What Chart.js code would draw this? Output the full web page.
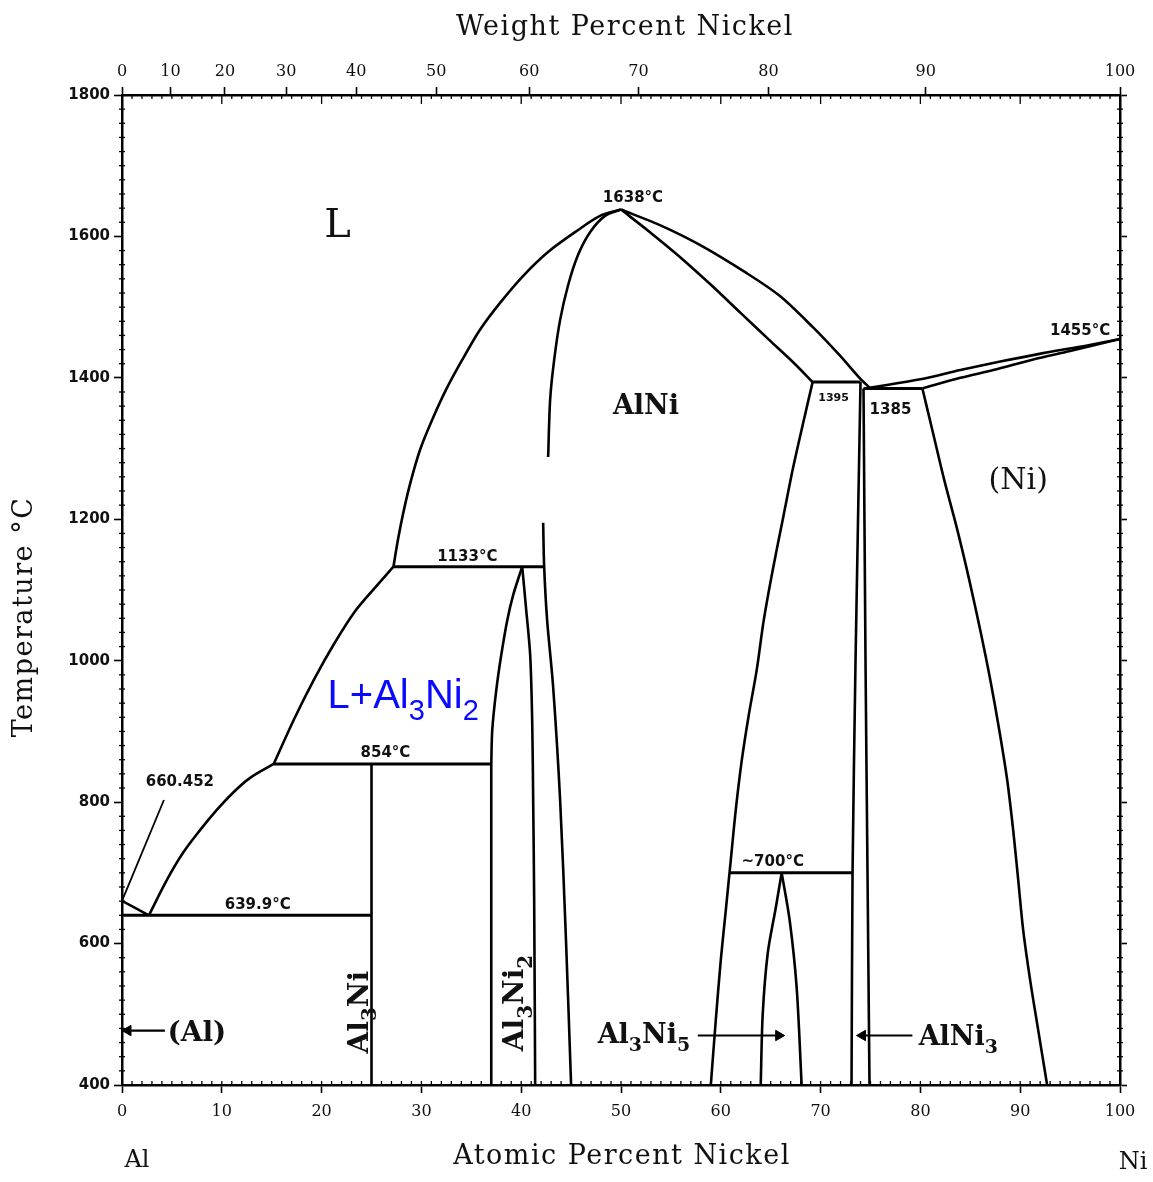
<!DOCTYPE html>
<html><head><meta charset="utf-8">
<script src="https://cdn.jsdelivr.net/npm/chart.js@4.4.1/dist/chart.umd.min.js"></script>
<style>html,body{margin:0;padding:0;background:#fff;}canvas{display:block;}</style>
</head><body>
<canvas id="c" width="1153" height="1182" style="width:1153px;height:1182px"></canvas>
<script>
// ---------- DATA (x = atomic % Ni, y = temperature °C) ----------
const alLiquidusShort = [[0,660.452],[2.7,639.9]];
const alLiquidus = [[2.7,639.9],[4.5,690],[6.1,728],[7.8,760],[9.5,789],[11.1,813],[12.8,834],[15.2,854]];
const meltLeader = [[0,660.452],[4.2,803]];
const eutectic640 = [[0,639.9],[25,639.9]];
const al3NiLine = [[25,400],[25,854]];
const peritectic854 = [[15.2,854],[37,854]];
const liquidus854to1133 = [[15.2,854],[17.3,919],[19.3,975],[21.3,1025],[23.3,1069],[25.4,1104],[27.2,1133]];
const peritectic1133 = [[27.2,1133],[42.3,1133]];
const liquidusTo1638 = [[27.2,1133],[27.65,1171],[28.26,1214],[28.96,1255],[29.86,1298],[31.06,1340],[32.46,1383],
  [34.07,1425],[35.87,1468],[37.88,1506],[40.18,1544],[42.69,1578],[45.39,1606],[47.9,1629],[50,1638]];
const alNiLeftUpper = [[50,1638],[48.4,1629],[46.9,1606],[45.7,1574],[44.7,1531],[43.9,1482],[43.3,1425],[42.9,1369],[42.7,1288]];
const alNiLeftLower = [[42.2,1195],[42.3,1133],[42.6,1057],[43.2,963],[43.9,803],[44.5,600],[45,400]];
const al3Ni2LeftLow = [[37,400],[37,854]];
const al3Ni2LeftHigh = [[37,854],[37.1,902],[37.5,958],[38.0,1008],[38.6,1057],[39.2,1093],[40.1,1133]];
const al3Ni2Right = [[40.1,1133],[40.5,1072],[40.9,1008],[41.1,916],[41.2,803],[41.3,661],[41.4,400]];
const liquidusRight = [[50,1638],[53.9,1616],[57.9,1588],[62.6,1548],[65.9,1516],[69.2,1472],[71.9,1432],[73.9,1400],[74.9,1386]];
const alNiSolidusRight = [[50,1638],[52.9,1606],[55.9,1571],[58.9,1533],[61.9,1493],[64.9,1453],[67.4,1420],[69.2,1394]];
const peritectic1395 = [[69.2,1394],[74,1394]];
const alNiRight = [[69.2,1394],[68.2,1333],[67.2,1270],[66.2,1199],[65.2,1128],[64.3,1057],[63.6,987],[62.8,923],
  [62.1,859],[61.5,789],[61.0,718],[60.5,647],[60.0,577],[59.5,492],[59.0,400]];
const alNi3Left = [[74,1394],[73.5,1000],[73.2,700],[73.1,400]];
const alNi3Right = [[74.3,1385],[74.5,1000],[74.7,700],[74.9,400]];
const eutectic1385 = [[74.3,1385],[80.2,1385]];
const niLiquidus = [[74.9,1386],[80,1398],[84,1411],[88,1423],[92.3,1435],[96,1444],[100,1455]];
const niSolidus = [[80.2,1385],[84,1400],[87.3,1411],[91.3,1426],[95,1438],[100,1455]];
const niSolvus = [[80.2,1385],[81.2,1326],[82.4,1255],[83.7,1185],[84.9,1114],[86.0,1043],[87.0,973],[87.9,902],
  [88.7,831],[89.3,760],[89.8,690],[90.3,619],[91.0,548],[91.8,478],[92.7,400]];
const peritectoid700 = [[60.9,700],[73.2,700]];
const al3Ni5Left = [[66.1,700],[65.5,650],[64.7,586],[64.2,500],[64.0,400]];
const al3Ni5Right = [[66.1,700],[66.9,633],[67.6,538],[68.1,400]];
const alArrow = [[4.3,477],[0.6,477]];
const al3Ni5Arrow = [[57.7,470],[65.8,470]];
const alNi3Arrow = [[79.2,470],[74.2,470]];

// tick labels
const tempTicks = [400,600,800,1000,1200,1400,1600,1800];
const atomicTicks = [0,10,20,30,40,50,60,70,80,90,100];
const weightTickLabels = [0,10,20,30,40,50,60,70,80,90,100];
const weightTickAtomic = [0,4.86,10.31,16.46,23.46,31.49,40.81,51.75,64.77,80.54,100];

// ---------- annotations (text) ----------
const annotations = [
  {t:'L', x:21.6, y:1620, size:40, fam:'DejaVu Serif', w:'normal'},
  {t:'AlNi', x:52.5, y:1363, size:27, fam:'DejaVu Serif', w:'bold'},
  {t:'(Ni)', x:89.8, y:1258, size:30, fam:'DejaVu Serif', w:'normal'},
  {t:'L+Al_3Ni_2', x:20.6, y:953, size:40, fam:'Liberation Sans', w:'normal', color:'#0a0aff', align:'left', sub:0.72},
  {t:'1638°C', x:51.2, y:1656, size:15, fam:'DejaVu Sans', w:'bold'},
  {t:'1133°C', x:34.6, y:1149, size:15, fam:'DejaVu Sans', w:'bold'},
  {t:'854°C', x:26.4, y:871, size:15, fam:'DejaVu Sans', w:'bold'},
  {t:'660.452', x:5.8, y:830, size:15, fam:'DejaVu Sans', w:'bold'},
  {t:'639.9°C', x:13.6, y:657, size:15, fam:'DejaVu Sans', w:'bold'},
  {t:'~700°C', x:65.2, y:718, size:15, fam:'DejaVu Sans', w:'bold'},
  {t:'1395', x:71.3, y:1373, size:11, fam:'DejaVu Sans', w:'bold'},
  {t:'1385', x:77.0, y:1357, size:15, fam:'DejaVu Sans', w:'bold'},
  {t:'1455°C', x:96.0, y:1468, size:15, fam:'DejaVu Sans', w:'bold'},
  {t:'(Al)', x:7.5, y:477, size:28, fam:'DejaVu Serif', w:'bold'},
  {t:'Al_3Ni_5', x:52.3, y:473, size:27, fam:'DejaVu Serif', w:'bold'},
  {t:'AlNi_3', x:83.8, y:471, size:27, fam:'DejaVu Serif', w:'bold'},
  {t:'Al_3Ni', x:23.6, y:503, size:28, fam:'DejaVu Serif', w:'bold', rot:-90},
  {t:'Al_3Ni_2', x:39.2, y:516, size:28, fam:'DejaVu Serif', w:'bold', rot:-90}
];

// ---------- build datasets ----------
const toXY = a => a.map(([x,y]) => ({x, y}));
const lineSets = [
  [alLiquidusShort,0,2.6],[alLiquidus,0.35,2.6],[meltLeader,0,1.8],[eutectic640,0,3],
  [al3NiLine,0,2.6],[peritectic854,0,3],[liquidus854to1133,0.3,2.6],[peritectic1133,0,3],
  [liquidusTo1638,0.3,2.6],[alNiLeftUpper,0.3,2.6],[alNiLeftLower,0.3,2.6],
  [al3Ni2LeftLow,0,2.6],[al3Ni2LeftHigh,0.3,2.6],[al3Ni2Right,0.3,2.6],
  [liquidusRight,0.3,2.6],[alNiSolidusRight,0.3,2.6],[peritectic1395,0,3],
  [alNiRight,0.3,2.6],[alNi3Left,0.2,2.6],[alNi3Right,0.2,2.6],[eutectic1385,0,3],
  [niLiquidus,0.3,2.6],[niSolidus,0.3,2.6],[niSolvus,0.3,2.6],[peritectoid700,0,3],
  [al3Ni5Left,0.3,2.6],[al3Ni5Right,0.3,2.6]
];
const datasets = lineSets.map(([arr,ten,bw]) => ({
  data: toXY(arr), showLine:true, borderColor:'#000', borderWidth:bw, tension:ten,
  pointRadius:0, pointHoverRadius:0, fill:false, xAxisID:'x', yAxisID:'y'
}));
[[alArrow,-90],[al3Ni5Arrow,90],[alNi3Arrow,-90]].forEach(([arr,rot]) => {
  datasets.push({data: toXY(arr), showLine:true, borderColor:'#000', borderWidth:2.2, tension:0,
    pointRadius:[0,6], pointStyle:'triangle', pointRotation:[0,rot], pointBackgroundColor:'#000',
    pointBorderColor:'#000', pointBorderWidth:1, pointHoverRadius:0, xAxisID:'x', yAxisID:'y'});
});

function drawRich(ctx, a, px, py) {
  const parts = [];
  const s = a.t;
  for (let i = 0; i < s.length; i++) {
    if (s[i] === '_' && i + 1 < s.length) { parts.push([s[i+1], true]); i++; }
    else { if (parts.length && !parts[parts.length-1][1]) parts[parts.length-1][0] += s[i]; else parts.push([s[i], false]); }
  }
  const subScale = a.sub || 0.7;
  const fontFor = sub => `${a.w||'normal'} ${sub ? Math.round(a.size*subScale) : a.size}px "${a.fam}"`;
  let total = 0;
  parts.forEach(p => { ctx.font = fontFor(p[1]); total += ctx.measureText(p[0]).width; });
  ctx.save();
  ctx.translate(px, py);
  if (a.rot) ctx.rotate(a.rot * Math.PI / 180);
  ctx.fillStyle = a.color || '#111';
  ctx.textBaseline = 'alphabetic';
  const capOffset = a.size * 0.36;
  let cx = (a.align === 'left') ? 0 : -total / 2;
  parts.forEach(p => {
    ctx.font = fontFor(p[1]);
    ctx.fillText(p[0], cx, capOffset + (p[1] ? a.size * 0.3 : 0));
    cx += ctx.measureText(p[0]).width;
  });
  ctx.restore();
}

const decorPlugin = {
  id: 'decor',
  afterDraw(chart) {
    const ctx = chart.ctx, xs = chart.scales.x, ys = chart.scales.y, ca = chart.chartArea;
    ctx.save();
    ctx.strokeStyle = '#000'; ctx.lineWidth = 1.3;
    for (let t = 400; t <= 1800; t += 20) {
      if (t % 200 === 0) continue;
      const py = ys.getPixelForValue(t);
      ctx.beginPath(); ctx.moveTo(ca.left - 3, py); ctx.lineTo(ca.left + 3, py); ctx.stroke();
      ctx.beginPath(); ctx.moveTo(ca.right - 3, py); ctx.lineTo(ca.right + 3, py); ctx.stroke();
    }
    for (let v = 1; v < 100; v++) {
      const px = xs.getPixelForValue(v);
      const major = v % 10 === 0;
      ctx.beginPath(); ctx.moveTo(px, ca.bottom); ctx.lineTo(px, ca.bottom - 4); ctx.stroke();
      ctx.beginPath(); ctx.moveTo(px, ca.top); ctx.lineTo(px, ca.top + (major ? 9 : 4)); ctx.stroke();
    }
    annotations.forEach(a => drawRich(ctx, a, xs.getPixelForValue(a.x), ys.getPixelForValue(a.y)));
    ctx.fillStyle = '#111';
    ctx.textAlign = 'center'; ctx.textBaseline = 'middle';
    ctx.font = 'normal 27px "DejaVu Serif"';
    ctx.letterSpacing = '1.5px';
    ctx.fillText('Weight Percent Nickel', (ca.left + ca.right) / 2 + 4, ca.top - 67);
    ctx.fillText('Atomic Percent Nickel', (ca.left + ca.right) / 2 + 1, ca.bottom + 72);
    ctx.save();
    ctx.translate(ca.left - 97, 617);
    ctx.rotate(-Math.PI / 2);
    ctx.fillText('Temperature °C', 0, 0);
    ctx.restore();
    ctx.letterSpacing = '0px';
    ctx.font = 'normal 24px "DejaVu Serif"';
    ctx.fillText('Al', ca.left + 15, ca.bottom + 76);
    ctx.fillText('Ni', ca.right + 13, ca.bottom + 78);
    ctx.restore();
  }
};

const borderOpt = {display:true, color:'#000', width:2.5};
new Chart(document.getElementById('c'), {
  type: 'scatter',
  data: { datasets },
  options: {
    responsive:false, animation:false, devicePixelRatio:1,
    layout:{padding:0},
    plugins:{legend:{display:false}, tooltip:{enabled:false}},
    events: [],
    scales: {
      x: { type:'linear', position:'bottom', min:0, max:100,
        afterBuildTicks(s){ s.ticks = atomicTicks.map(v => ({value:v})); },
        afterFit(s){ s.height = 97; },
        ticks:{autoSkip:false, maxRotation:0, padding:9, color:'#111', font:{family:'DejaVu Serif', size:16},
          callback:v => String(v)},
        grid:{drawOnChartArea:false, drawTicks:true, tickLength:8, tickColor:'#000', tickWidth:1.6},
        border:borderOpt },
      x2: { type:'linear', position:'top', min:0, max:100,
        afterBuildTicks(s){ s.ticks = weightTickAtomic.map(v => ({value:v})); },
        afterFit(s){ s.height = 95; },
        ticks:{autoSkip:false, maxRotation:0, padding:6, color:'#111', font:{family:'DejaVu Serif', size:16},
          callback:(v,i) => String(weightTickLabels[i])},
        grid:{drawOnChartArea:false, drawTicks:true, tickLength:8, tickColor:'#000', tickWidth:1.6},
        border:borderOpt },
      y: { type:'linear', position:'left', min:400, max:1800,
        afterBuildTicks(s){ s.ticks = tempTicks.map(v => ({value:v})); },
        afterFit(s){ s.width = 122; },
        ticks:{autoSkip:false, padding:4, color:'#111', font:{family:'DejaVu Sans', size:15, weight:'bold'},
          callback:v => String(v)},
        grid:{drawOnChartArea:false, drawTicks:true, tickLength:8, tickColor:'#000', tickWidth:1.6},
        border:borderOpt },
      y2: { type:'linear', position:'right', min:400, max:1800,
        afterBuildTicks(s){ s.ticks = tempTicks.map(v => ({value:v})); },
        afterFit(s){ s.width = 33; },
        ticks:{display:false},
        grid:{drawOnChartArea:false, drawTicks:true, tickLength:7, tickColor:'#000', tickWidth:1.6},
        border:borderOpt }
    }
  },
  plugins:[decorPlugin]
});
</script>
</body></html>
